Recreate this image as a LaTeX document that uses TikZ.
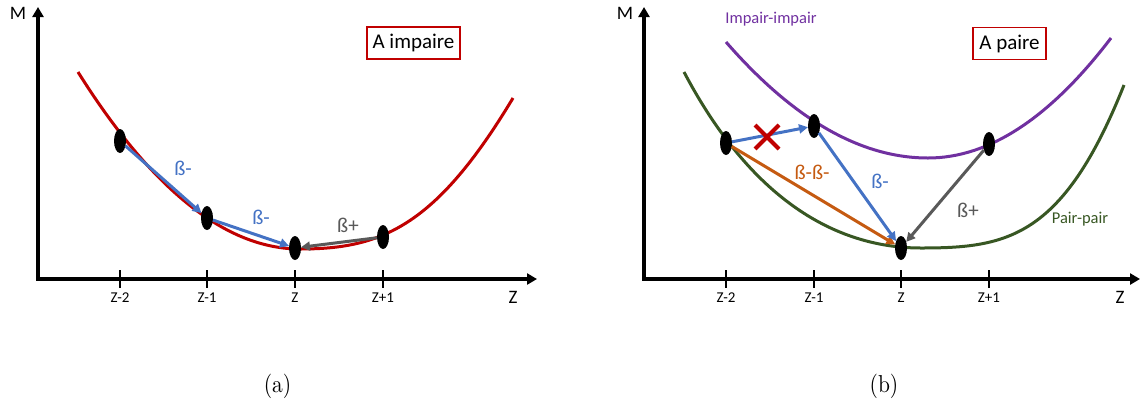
\documentclass[tikz,border=0pt]{standalone}
\usepackage{graphicx}
\usepackage{fontspec}
\newfontfamily\calfont{Carlito}
\usetikzlibrary{shapes.geometric,arrows.meta}
\definecolor{cred}{HTML}{C00000}
\definecolor{cblue}{HTML}{4472C4}
\definecolor{cgray}{HTML}{595959}
\definecolor{corange}{HTML}{C55A11}
\definecolor{cpurple}{HTML}{7030A0}
\definecolor{cgreen}{HTML}{385723}
\begin{document}
\begin{tikzpicture}[x=1pt,y=-1pt,
  dot/.style={ellipse, fill=black, minimum width=12pt, minimum height=24pt, inner sep=0pt, outer sep=0pt},
  axis/.style={line width=3.2pt, {Triangle[length=10pt,width=11pt]}-{Triangle[length=10pt,width=11pt]}},
  tickmark/.style={line width=1.3pt},
  ticklab/.style={font=\calfont\fontsize{15}{18}\selectfont, inner sep=0pt},
  axlab/.style={font=\calfont\fontsize{19}{22}\selectfont, inner sep=0pt},
  curve/.style={line width=3pt},
  arr/.style={line width=3pt, -{Triangle[length=9pt,width=9pt]}},
  lab/.style={font=\calfont\fontsize{21}{24}\selectfont, inner sep=0pt},
  curvelab/.style={font=\calfont\fontsize{16.5}{19}\selectfont, inner sep=0pt},
  boxlab/.style={draw=cred, text=black, line width=1.6pt, font=\calfont\fontsize{21}{25}\selectfont, inner sep=0pt, minimum height=32pt},
  caption/.style={font=\fontsize{10}{12}\selectfont, inner sep=0pt},
  ]
\useasboundingbox (0,0) rectangle (1142,405);

% ---------------- panel (a) ----------------
\coordinate (aO) at (38,279);
\coordinate (aY) at (38,7);
\coordinate (aX) at (537,279);
\draw[axis] (aY) -- (aO) -- (aX);
\node[axlab] (aM) at (18,13) {M};
\node[axlab] (aZ) at (513,297) {Z};
\foreach \x/\t [count=\i] in {120/Z-2,207/Z-1,295/Z,383/Z+1}{
  \draw[tickmark] (\x,270) -- (\x,288);
  \node[ticklab] (at\i) at (\x,298) {\t};
}
\draw[curve, cred] (78,72) .. controls (152,190) and (226,249) .. (300,249)
  .. controls (380,249) and (435,228) .. (513,98);
\node[dot] (a1) at (120,141) {};
\node[dot] (a2) at (207,218) {};
\node[dot] (a3) at (295,248) {};
\node[dot] (a4) at (383,237) {};
\draw[arr, cblue] (a1) -- (a2);
\draw[arr, cblue] (a2) -- (a3);
\draw[arr, cgray] (a4) -- (a3);
\node[lab, text=cblue] (la1) at (183,168) {ß-};
\node[lab, text=cblue] (la2) at (261,217) {ß-};
\node[lab, text=cgray] (la3) at (348,225) {ß+};
\node[boxlab, minimum width=93pt] (boxa) at (413.5,43) {A impaire};
\node[caption] (capa) at (277.5,386) {\scalebox{2.15}[2.45]{(a)}};

% ---------------- panel (b) ----------------
\coordinate (bO) at (644,279);
\coordinate (bY) at (644,7);
\coordinate (bX) at (1140,279);
\draw[axis] (bY) -- (bO) -- (bX);
\node[axlab] (bM) at (625,13) {M};
\node[axlab] (bZ) at (1120,297) {Z};
\foreach \x/\t [count=\i] in {726/Z-2,814/Z-1,901/Z,989/Z+1}{
  \draw[tickmark] (\x,270) -- (\x,288);
  \node[ticklab] (bt\i) at (\x,298) {\t};
}
\draw[curve, cpurple] (726,42) .. controls (793.3,119.3) and (860.7,158) .. (928,158)
  .. controls (989,158) and (1050,118) .. (1111,38);
\draw[curve, cgreen] (684,72) .. controls (754,205) and (841,248) .. (921,248)
  .. controls (1007,248) and (1063,238) .. (1124,85);
\node[curvelab, text=cpurple] (lpur) at (771,19) {Impair-impair};
\node[curvelab, text=cgreen] (lgre) at (1080,219) {Pair-pair};
\node[dot] (b1) at (726,143) {};
\node[dot] (b2) at (814,126) {};
\node[dot] (b3) at (901,248) {};
\node[dot] (b4) at (989,144) {};
\draw[arr, cblue] (b1) -- (b2);
\draw[arr, corange] (b1) -- (b3);
\draw[arr, cblue] (b2) -- (b3);
\draw[arr, cgray] (b4) -- (b3);
\coordinate (bx) at (767,137);
\draw[cred, line width=4pt] ([shift={(-12,-12)}]bx) -- ([shift={(12,12)}]bx)
  ([shift={(-12,12)}]bx) -- ([shift={(12,-12)}]bx);
\node[lab, text=corange] (lb1) at (812,172) {ß-ß-};
\node[lab, text=cblue] (lb2) at (880,181) {ß-};
\node[lab, text=cgray] (lb3) at (968,210) {ß+};
\node[boxlab, minimum width=73pt] (boxb) at (1009.5,43.5) {A paire};
\node[caption] (capb) at (884,386) {\scalebox{2.15}[2.45]{(b)}};
\end{tikzpicture}
\end{document}
